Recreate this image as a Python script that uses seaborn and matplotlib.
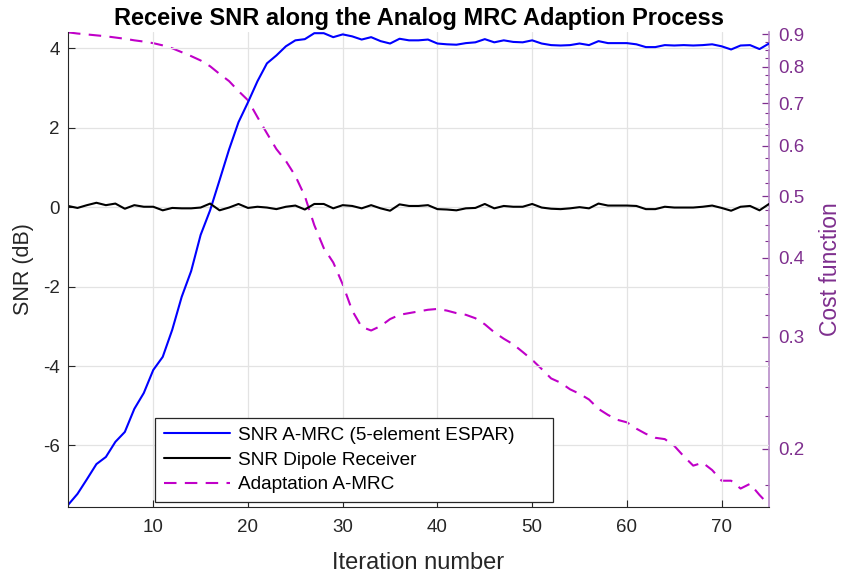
import numpy as np
import pandas as pd
import matplotlib
matplotlib.use("Agg")
import matplotlib.pyplot as plt
import seaborn as sns
from matplotlib.ticker import FixedLocator, NullFormatter, FixedFormatter

iterations = list(range(1, 76))

snr_amrc = [-7.50, -7.22, -6.85, -6.47, -6.29, -5.91, -5.66, -5.08, -4.68, -4.10,
            -3.77, -3.09, -2.26, -1.61, -0.70, -0.08, 0.68, 1.45, 2.14, 2.64,
            3.17, 3.62, 3.82, 4.05, 4.20, 4.23, 4.38, 4.38, 4.28, 4.35,
            4.30, 4.22, 4.28, 4.18, 4.12, 4.24, 4.20, 4.20, 4.22, 4.12,
            4.10, 4.09, 4.13, 4.15, 4.23, 4.15, 4.20, 4.16, 4.15, 4.20,
            4.12, 4.08, 4.07, 4.08, 4.12, 4.08, 4.18, 4.13, 4.13, 4.13,
            4.10, 4.03, 4.03, 4.08, 4.07, 4.08, 4.07, 4.08, 4.10, 4.05,
            3.97, 4.07, 4.08, 3.98, 4.12]

snr_dipole = [0.03, -0.02, 0.05, 0.11, 0.05, 0.09, -0.04, 0.05, 0.01, 0.01,
              -0.08, -0.02, -0.03, -0.03, -0.01, 0.09, -0.08, -0.01, 0.08, -0.02,
              0.01, -0.01, -0.05, 0.01, 0.04, -0.06, 0.08, 0.08, -0.03, 0.05,
              0.03, -0.03, 0.05, -0.03, -0.09, 0.07, 0.03, 0.03, 0.05, -0.05,
              -0.06, -0.08, -0.03, -0.02, 0.08, -0.03, 0.03, 0.01, 0.01, 0.08,
              -0.01, -0.04, -0.05, -0.03, 0.00, -0.03, 0.09, 0.04, 0.04, 0.04,
              0.03, -0.05, -0.05, 0.01, -0.01, -0.01, -0.01, 0.01, 0.04, -0.02,
              -0.09, 0.01, 0.03, -0.08, 0.08]

cost = [0.906, 0.902, 0.899, 0.896, 0.893, 0.889, 0.885, 0.880, 0.876, 0.871,
        0.864, 0.855, 0.843, 0.831, 0.818, 0.801, 0.779, 0.759, 0.732, 0.708,
        0.666, 0.628, 0.593, 0.568, 0.538, 0.500, 0.450, 0.414, 0.393, 0.363,
        0.330, 0.311, 0.307, 0.312, 0.320, 0.325, 0.327, 0.329, 0.331, 0.332,
        0.330, 0.327, 0.325, 0.321, 0.314, 0.305, 0.298, 0.292, 0.284, 0.276,
        0.267, 0.258, 0.254, 0.248, 0.244, 0.239, 0.231, 0.226, 0.222, 0.220,
        0.215, 0.211, 0.208, 0.207, 0.202, 0.1945, 0.188, 0.190, 0.185, 0.178,
        0.178, 0.173, 0.176, 0.169, 0.163]

x_ticks = [10, 20, 30, 40, 50, 60, 70]
y_ticks = [-6, -4, -2, 0, 2, 4]
cost_ticks = [0.2, 0.3, 0.4, 0.5, 0.6, 0.7, 0.8, 0.9]
cost_tick_labels = ["0.2", "0.3", "0.4", "0.5", "0.6", "0.7", "0.8", "0.9"]
cost_minor = [0.175, 0.225, 0.25, 0.275, 0.325, 0.35, 0.375, 0.425, 0.45, 0.475,
              0.525, 0.55, 0.575, 0.625, 0.65, 0.675, 0.725, 0.75, 0.775,
              0.825, 0.85, 0.875]

labels = ["SNR A-MRC (5-element ESPAR)", "SNR Dipole Receiver", "Adaptation A-MRC"]

df = pd.DataFrame({"it": iterations, "amrc": snr_amrc, "dipole": snr_dipole, "cost": cost})

sns.set_theme(style="white")
plt.rcParams["font.family"] = ["Liberation Sans", "DejaVu Sans"]
plt.rcParams["axes.unicode_minus"] = False

dark = "#262626"
purple = "#7E2F8E"
purple_light = "#b88cc8"
magenta = "#c000c8"

fig = plt.figure(figsize=(8.42, 5.77), dpi=100)
ax = fig.add_axes([68/842, 1-507/577, (769-68)/842, (507-32)/577])
ax2 = ax.twinx()

sns.lineplot(data=df, x="it", y="amrc", ax=ax, color="#0000ff", linewidth=1.5, label=labels[0])
sns.lineplot(data=df, x="it", y="dipole", ax=ax, color="black", linewidth=1.5, label=labels[1])
sns.lineplot(data=df, x="it", y="cost", ax=ax2, color=magenta, linewidth=1.5, label=labels[2])
ax2.lines[-1].set_dashes([6, 4])

ax.set_xlim(1, 75)
ax.set_ylim(-7.55, 4.41)
ax2.set_yscale("log")
ax2.set_ylim(0.1618, 0.907)

ax.set_xticks(x_ticks)
ax.set_xticklabels([str(t) for t in x_ticks])
ax.set_yticks(y_ticks)
ax.set_yticklabels([str(t) for t in y_ticks])
ax2.yaxis.set_major_locator(FixedLocator(cost_ticks))
ax2.yaxis.set_major_formatter(FixedFormatter(cost_tick_labels))
ax2.yaxis.set_minor_locator(FixedLocator(cost_minor))
ax2.yaxis.set_minor_formatter(NullFormatter())

ax.grid(True, color="#e3e3e3", linewidth=0.9)
ax.set_axisbelow(True)

for a in (ax, ax2):
    a.spines["top"].set_visible(False)
ax.spines["right"].set_visible(False)
ax2.spines["left"].set_visible(False)
ax2.spines["bottom"].set_visible(False)
ax.spines["left"].set_color(dark)
ax.spines["bottom"].set_color(dark)
ax.spines["left"].set_linewidth(0.8)
ax.spines["bottom"].set_linewidth(0.8)
ax2.spines["right"].set_color(purple_light)
ax2.spines["right"].set_linewidth(1.2)

ax.tick_params(axis="both", direction="in", length=5, width=0.8, color=dark,
               labelcolor=dark, labelsize=13.5, left=True, bottom=True)
ax.tick_params(axis="x", pad=9)
ax.tick_params(axis="y", pad=6)
ax2.tick_params(axis="y", which="major", direction="in", length=5, width=0.9,
                color=purple, labelcolor=purple, labelsize=13.5, right=True, pad=7)
ax2.tick_params(axis="y", which="minor", direction="in", length=3, width=0.8,
                color=purple, right=True)

ax.set_xlabel("Iteration number", fontsize=17, color=dark, labelpad=11)
ax.set_ylabel("SNR (dB)", fontsize=15.5, color=dark, labelpad=6)
ax2.set_ylabel("Cost function", fontsize=16.5, color=purple, labelpad=10)
ax.set_title("Receive SNR along the Analog MRC Adaption Process", fontsize=17,
             fontweight="bold", color="black", pad=5)

h1, l1 = ax.get_legend_handles_labels()
h2, l2 = ax2.get_legend_handles_labels()
if ax2.get_legend() is not None:
    ax2.get_legend().remove()
leg = ax.legend(h1 + h2, l1 + l2, loc="lower left",
                bbox_to_anchor=((155-68)/701, (507-502)/475, (553-155)/701, (502-417)/475),
                mode="expand", fontsize=13.7, frameon=True, fancybox=False,
                handlelength=3.5, handletextpad=0.42, borderpad=0.45, labelspacing=0.4,
                borderaxespad=0)
leg.get_frame().set_edgecolor(dark)
leg.get_frame().set_linewidth(0.9)
leg.get_frame().set_alpha(1)
leg.set_zorder(10)
ax.set_zorder(ax2.get_zorder() + 1)
ax.patch.set_visible(False)
for t in leg.get_texts():
    t.set_color("black")

fig.savefig("out.png", dpi=100)
